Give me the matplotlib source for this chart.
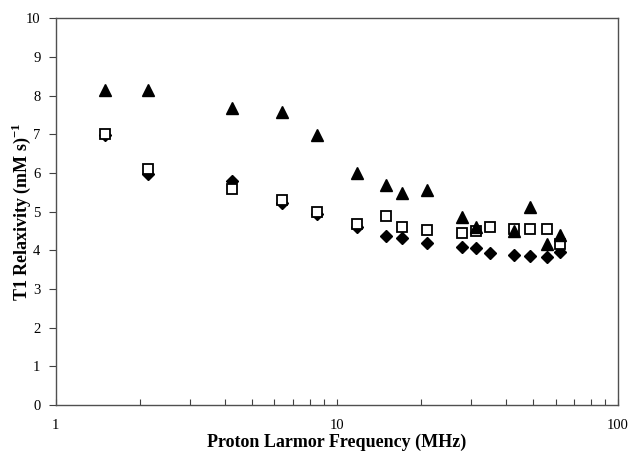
import matplotlib.pyplot as plt
import matplotlib
from matplotlib.ticker import LogLocator, FixedLocator, FixedFormatter, NullFormatter

matplotlib.rcParams['font.family'] = ['Liberation Serif', 'DejaVu Serif']
matplotlib.rcParams['mathtext.fontset'] = 'custom'
matplotlib.rcParams['mathtext.rm'] = 'Liberation Serif'
matplotlib.rcParams['mathtext.bf'] = 'Liberation Serif:bold'

# triangles (filled)
tri_freq = [1.5, 2.13, 4.25, 6.4, 8.48, 11.8, 14.9, 17.0, 21.0, 27.8, 31.2, 42.6, 48.6, 56.0, 62.1]
tri_r1 = [8.14, 8.14, 7.69, 7.58, 6.98, 5.99, 5.68, 5.49, 5.56, 4.85, 4.59, 4.50, 5.12, 4.16, 4.39]

# open squares
sq_freq = [1.5, 2.13, 4.25, 6.4, 8.48, 11.8, 14.9, 17.0, 21.0, 27.8, 31.2, 35.0, 42.6, 48.6, 56.0, 62.1]
sq_r1 = [7.0, 6.09, 5.58, 5.30, 4.99, 4.67, 4.89, 4.59, 4.52, 4.44, 4.50, 4.61, 4.56, 4.55, 4.55, 4.16]

# diamonds (filled)
dia_freq = [1.5, 2.13, 4.25, 6.4, 8.48, 11.8, 14.9, 17.0, 21.0, 27.8, 31.2, 35.0, 42.6, 48.6, 56.0, 62.1]
dia_r1 = [6.98, 5.98, 5.78, 5.22, 4.95, 4.60, 4.38, 4.32, 4.18, 4.09, 4.07, 3.92, 3.88, 3.85, 3.82, 3.96]

fig = plt.figure(figsize=(6.31, 4.53), dpi=100)
ax = fig.add_axes([0.0883, 0.106, 0.891, 0.8536])

ax.plot(dia_freq, dia_r1, 'D', color='black', markersize=6, linestyle='none', zorder=2)
ax.plot(sq_freq, sq_r1, 's', markerfacecolor='white', markeredgecolor='black',
        markeredgewidth=1.3, markersize=7.5, linestyle='none', zorder=3)
ax.plot(tri_freq, tri_r1, '^', color='black', markersize=8.5, linestyle='none', zorder=4)

ax.set_xscale('log')
ax.set_xlim(1, 100)
ax.set_ylim(0, 10)
ax.xaxis.set_major_locator(FixedLocator([1, 10, 100]))
ax.xaxis.set_major_formatter(FixedFormatter(['1', '10', '100']))
ax.xaxis.set_minor_locator(LogLocator(base=10, subs=range(2, 10)))
ax.xaxis.set_minor_formatter(NullFormatter())
ax.set_yticks(range(0, 11))

ax.tick_params(axis='x', which='both', direction='in', length=4, width=0.8,
               pad=10, labelsize=10.5, color='#404040')
ax.tick_params(axis='y', direction='out', length=5, width=0.8, pad=6,
               labelsize=10.5, color='#404040')

for s in ax.spines.values():
    s.set_color('#505050')
    s.set_linewidth(1.0)

ax.set_xlabel('Proton Larmor Frequency (MHz)', fontsize=13, fontweight='bold', labelpad=1)
ax.set_ylabel(r'T1 Relaxivity (mM s)$^{\mathbf{-1}}$', fontsize=13, fontweight='bold')
ax.yaxis.set_label_coords(-0.04, 0.5)

fig.savefig('out.png', dpi=100)
